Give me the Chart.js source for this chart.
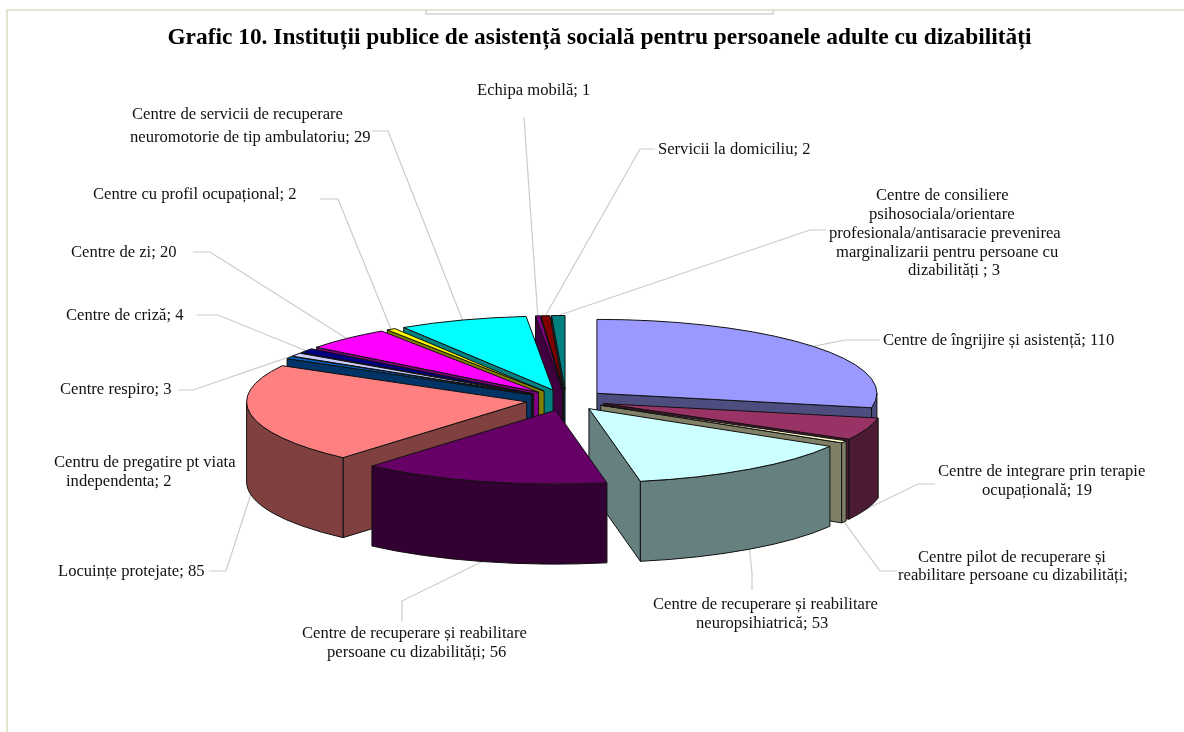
<!DOCTYPE html>
<html lang="ro">
<head>
<meta charset="utf-8">
<title>Grafic 10</title>
<script src="https://cdn.jsdelivr.net/npm/chart.js@4/dist/chart.umd.min.js"></script>
<style>
  html, body { margin: 0; padding: 0; background: #fff; }
  canvas { display: block; }
</style>
</head>
<body>
<canvas id="pieChart" width="1184" height="732"></canvas>
<script>
const CATEGORIES = [
  'Centre de îngrijire și asistență',
  'Centre de integrare prin terapie\nocupațională',
  'Centre pilot de recuperare și\nreabilitare persoane cu dizabilități',
  'Centre de recuperare și reabilitare\nneuropsihiatrică',
  'Centre de recuperare și reabilitare\npersoane cu dizabilități',
  'Locuințe protejate',
  'Centru de pregatire pt viata\nindependenta',
  'Centre respiro',
  'Centre de criză',
  'Centre de zi',
  'Centre cu profil ocupațional',
  'Centre de servicii de recuperare\nneuromotorie de tip ambulatoriu',
  'Echipa mobilă',
  'Servicii la domiciliu',
  'Centre de consiliere\npsihosociala/orientare\nprofesionala/antisaracie prevenirea\nmarginalizarii pentru persoane cu\ndizabilități '
];
const VALUES = [110, 19, 2, 53, 56, 85, 2, 3, 4, 20, 2, 29, 1, 2, 3];
const COLORS = [
  '#9999FF', '#993366', '#FFFFCC', '#CCFFFF', '#660066',
  '#FF8080', '#0066CC', '#CCCCFF', '#000080', '#FF00FF',
  '#FFFF00', '#00FFFF', '#800080', '#800000', '#008080'
];
// the pilot centre label is printed without its number
const VALUE_HIDDEN = [2];

// left x / middle y of every label line
const LABEL_LINES = [
  [[883, 341]],
  [[938, 472], [982, 491]],
  [[918, 558], [898, 576]],
  [[653, 605], [696, 624]],
  [[302, 634], [327, 653]],
  [[58, 572]],
  [[54, 463], [66, 482]],
  [[60, 390]],
  [[66, 316]],
  [[71, 253]],
  [[93, 195]],
  [[132, 115], [130, 138]],
  [[477, 91]],
  [[658, 150]],
  [[876, 196], [869, 215], [829, 234], [836, 253], [908, 271]]
];
// leader start and elbow, the third point comes from the slice itself
const LEADERS = [
  [[880, 340], [845, 340]],
  [[935, 484], [918, 484]],
  [[897, 571], [880, 571]],
  [[752, 590], [752, 573]],
  [[402, 621], [402, 601]],
  [[209, 571], [226, 571]],
  null,
  [[178, 390], [193, 390]],
  [[197, 315], [218, 315]],
  [[193, 252], [210, 252]],
  [[320, 199], [338, 199]],
  [[372, 131], [388, 131]],
  [[524, 117], [524, 117]],
  [[655, 149], [640, 149]],
  [[826, 230], [810, 230]]
];

const CENTER_X = 566;
const CENTER_Y = 400;
const RADIUS = 280;
const TILT = 0.264;
const DEPTH = 80;
const EXPLODE = 40;
const LABEL_FONT = '16.6px "Liberation Serif"';

function darken(hex) {
  const n = parseInt(hex.slice(1), 16);
  const half = v => Math.round(v / 2);
  return `rgb(${half(n >> 16)}, ${half((n >> 8) & 255)}, ${half(n & 255)})`;
}

function sliceOrigin(arc) {
  const mid = (arc.startAngle + arc.endAngle) / 2;
  return {
    x: CENTER_X + Math.cos(mid) * EXPLODE,
    y: CENTER_Y + Math.sin(mid) * EXPLODE * TILT
  };
}

function rimPoint(o, arc, angle, drop) {
  return {
    x: o.x + Math.cos(angle) * arc.outerRadius,
    y: o.y + Math.sin(angle) * arc.outerRadius * TILT + drop
  };
}

function drawPage(ctx) {
  ctx.save();
  ctx.strokeStyle = '#e6e3cf';
  ctx.lineWidth = 2;
  ctx.beginPath();
  ctx.moveTo(7, 732);
  ctx.lineTo(7, 10);
  ctx.lineTo(1184, 10);
  ctx.stroke();
  ctx.strokeStyle = '#dcdcdc';
  ctx.beginPath();
  ctx.moveTo(426, 10);
  ctx.lineTo(426, 14);
  ctx.lineTo(773, 14);
  ctx.lineTo(773, 10);
  ctx.stroke();
  ctx.restore();
}

function drawLeaders(ctx, arcs) {
  ctx.save();
  ctx.strokeStyle = '#cbcbcb';
  ctx.lineWidth = 1.2;
  arcs.forEach((arc, i) => {
    if (!LEADERS[i]) return;
    const mid = (arc.startAngle + arc.endAngle) / 2;
    const drop = Math.sin(mid) > 0 ? DEPTH : 0;
    const end = rimPoint(sliceOrigin(arc), arc, mid, drop);
    ctx.beginPath();
    ctx.moveTo(LEADERS[i][0][0], LEADERS[i][0][1]);
    ctx.lineTo(LEADERS[i][1][0], LEADERS[i][1][1]);
    ctx.lineTo(end.x, end.y);
    ctx.stroke();
  });
  ctx.restore();
}

function drawRadialWall(ctx, o, arc, angle) {
  const top = rimPoint(o, arc, angle, 0);
  ctx.beginPath();
  ctx.moveTo(o.x, o.y);
  ctx.lineTo(top.x, top.y);
  ctx.lineTo(top.x, top.y + DEPTH);
  ctx.lineTo(o.x, o.y + DEPTH);
  ctx.closePath();
  ctx.fill();
  ctx.stroke();
}

function drawSlice(ctx, arc, color, area) {
  const o = sliceOrigin(arc);
  const rx = arc.outerRadius;
  const ry = rx * TILT;

  ctx.save();
  ctx.lineWidth = 1;
  ctx.lineJoin = 'round';
  ctx.strokeStyle = '#111';
  ctx.fillStyle = darken(color);

  // only the cut faces turned towards the viewer
  if (Math.cos(arc.startAngle) < 0) drawRadialWall(ctx, o, arc, arc.startAngle);
  if (Math.cos(arc.endAngle) > 0) drawRadialWall(ctx, o, arc, arc.endAngle);

  // outer wall, front half of the ellipse only
  const from = Math.max(arc.startAngle, 0);
  const to = Math.min(arc.endAngle, Math.PI);
  if (to > from) {
    ctx.beginPath();
    ctx.ellipse(o.x, o.y, rx, ry, 0, from, to);
    ctx.ellipse(o.x, o.y + DEPTH, rx, ry, 0, to, from, true);
    ctx.closePath();
    ctx.fill();
    ctx.stroke();
  }

  // top face: the library's arc, squashed into the pie plane
  ctx.save();
  ctx.translate(o.x, o.y);
  ctx.scale(1, TILT);
  ctx.translate(-arc.x, -arc.y);
  arc.draw(ctx, area);
  ctx.restore();

  ctx.beginPath();
  ctx.moveTo(o.x, o.y);
  ctx.ellipse(o.x, o.y, rx, ry, 0, arc.startAngle, arc.endAngle);
  ctx.closePath();
  ctx.stroke();
  ctx.restore();
}

function drawLabels(ctx) {
  ctx.save();
  ctx.font = LABEL_FONT;
  ctx.fillStyle = '#111';
  ctx.textAlign = 'left';
  ctx.textBaseline = 'middle';
  CATEGORIES.forEach((name, i) => {
    const suffix = VALUE_HIDDEN.includes(i) ? ';' : `; ${VALUES[i]}`;
    const lines = (name + suffix).split('\n');
    lines.forEach((line, j) => {
      ctx.fillText(line, LABEL_LINES[i][j][0], LABEL_LINES[i][j][1]);
    });
  });
  ctx.restore();
}

const pie3d = {
  id: 'pie3d',
  beforeDraw(chart) {
    drawPage(chart.ctx);
  },
  beforeDatasetDraw(chart, args) {
    const ctx = chart.ctx;
    const arcs = args.meta.data;
    drawLeaders(ctx, arcs);
    // back to front so nearer slices cover the ones behind
    const order = arcs.map((arc, i) => i).sort((a, b) => {
      const sa = Math.sin((arcs[a].startAngle + arcs[a].endAngle) / 2);
      const sb = Math.sin((arcs[b].startAngle + arcs[b].endAngle) / 2);
      return sa - sb;
    });
    order.forEach(i => drawSlice(ctx, arcs[i], COLORS[i], chart.chartArea));
    drawLabels(ctx);
    return false;
  }
};

new Chart(document.getElementById('pieChart'), {
  type: 'pie',
  data: {
    labels: CATEGORIES,
    datasets: [{
      data: VALUES,
      backgroundColor: COLORS,
      borderWidth: 0
    }]
  },
  options: {
    responsive: false,
    animation: false,
    radius: RADIUS,
    layout: { padding: { left: 15 } },
    plugins: {
      legend: { display: false },
      tooltip: { enabled: false },
      title: {
        display: true,
        text: 'Grafic 10. Instituții publice de asistență socială pentru persoanele adulte cu dizabilități',
        color: '#000',
        font: { family: '"Liberation Serif"', size: 23.4, weight: 'bold' },
        padding: { top: 24, bottom: 18 }
      }
    }
  },
  plugins: [pie3d]
});
</script>
</body>
</html>
